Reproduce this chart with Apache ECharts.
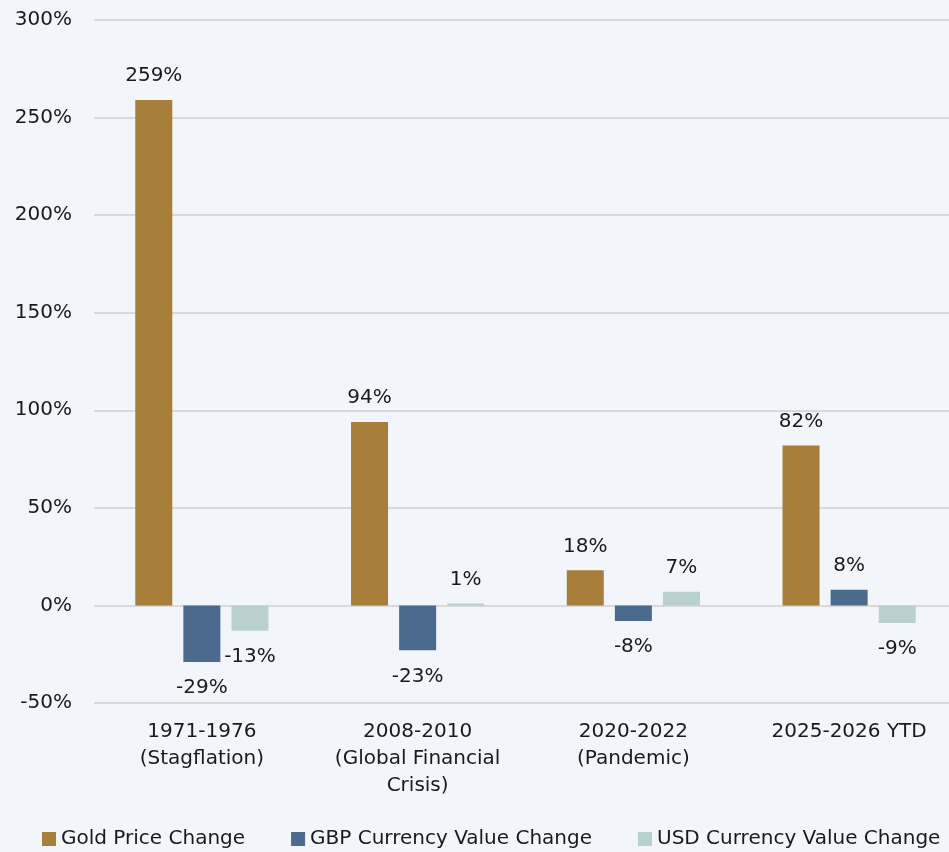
<!DOCTYPE html>
<html>
<head>
<meta charset="utf-8">
<script src="https://cdn.jsdelivr.net/npm/echarts@6/dist/echarts.min.js"></script>
<style>
  html, body { margin: 0; padding: 0; background: #F2F5F9; overflow: hidden; width: 949px; height: 852px; }
  #chart { width: 957px; height: 852px; }
</style>
</head>
<body>
<div id="chart"></div>
<script>
const categories = ['1971-1976\n(Stagflation)', '2008-2010\n(Global Financial\nCrisis)', '2020-2022\n(Pandemic)', '2025-2026 YTD'];
const seriesNames = ['Gold Price Change', 'GBP Currency Value Change', 'USD Currency Value Change'];
const goldValues = [259, 94, 18, 82];
const gbpValues = [-29, -23, -8, 8];
const usdValues = [-13, 1, 7, -9];
const yMin = -50, yMax = 300, yStep = 50;

const colors = ['#A87F3A', '#4B6A8D', '#B8D1CE'];
const FONT = 'DejaVu Sans';

function makeData(arr) {
  return arr.map(v => ({
    value: v,
    label: v < 0 ? { position: 'bottom', distance: 16 } : { position: 'top', distance: 14 }
  }));
}

function makeSeries(name, arr, color) {
  return {
    name: name,
    type: 'bar',
    data: makeData(arr),
    barWidth: 37,
    barGap: '30%',
    itemStyle: { color: color },
    label: {
      show: true,
      formatter: p => p.value + '%',
      color: '#1a1a1a',
      fontFamily: FONT,
      fontSize: 20
    }
  };
}

const chart = echarts.init(document.getElementById('chart'));
chart.setOption({
  backgroundColor: '#F2F5F9',
  animation: false,
  textStyle: { fontFamily: FONT },
  grid: { left: 94, right: 0, top: 20, bottom: 149, containLabel: false },
  legend: {
    left: 42,
    top: 829,
    width: 930,
    padding: 0,
    itemWidth: 14,
    itemHeight: 14,
    itemGap: 46,
    icon: 'rect',
    textStyle: { fontFamily: FONT, fontSize: 20, color: '#1a1a1a' },
    data: seriesNames
  },
  xAxis: {
    type: 'category',
    data: categories,
    axisLine: { show: false, onZero: false },
    axisTick: { show: false },
    axisLabel: {
      color: '#1a1a1a',
      fontFamily: FONT,
      fontSize: 20,
      lineHeight: 27,
      margin: 15,
      interval: 0
    }
  },
  yAxis: {
    type: 'value',
    min: yMin,
    max: yMax,
    interval: yStep,
    axisLine: { show: false },
    axisTick: { show: false },
    splitLine: { lineStyle: { color: '#D9D9D9', width: 2 } },
    axisLabel: {
      formatter: '{value}%',
      color: '#1a1a1a',
      fontFamily: FONT,
      fontSize: 20,
      margin: 22
    }
  },
  series: [
    makeSeries(seriesNames[0], goldValues, colors[0]),
    makeSeries(seriesNames[1], gbpValues, colors[1]),
    makeSeries(seriesNames[2], usdValues, colors[2])
  ]
});
</script>
</body>
</html>
